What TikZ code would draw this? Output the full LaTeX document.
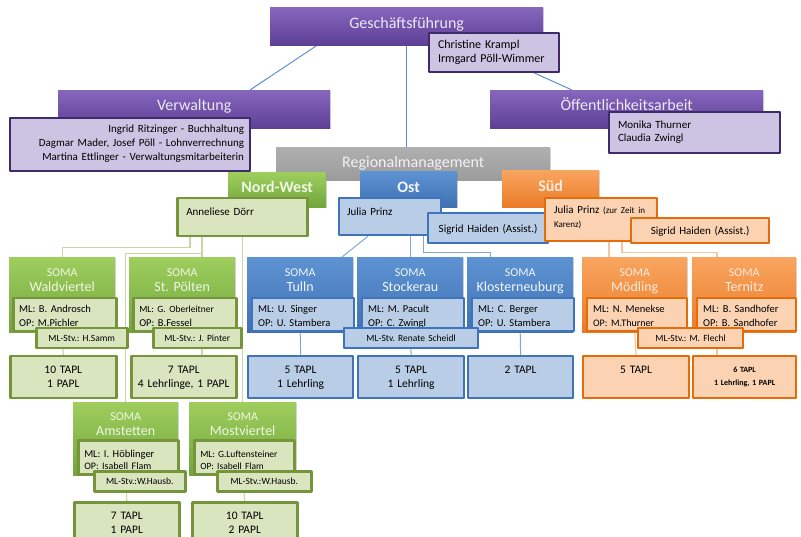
\documentclass[tikz,border=0pt]{standalone}
\usepackage{fontspec}
\setmainfont{Carlito}
\frenchspacing
\usetikzlibrary{calc,shadows,backgrounds}
\definecolor{purtop}{HTML}{8767BE}
\definecolor{purbot}{HTML}{5D3F95}
\definecolor{purtxt}{HTML}{EDE7F6}
\definecolor{purfill}{HTML}{CDC3E2}
\definecolor{purline}{HTML}{3F2A6B}
\definecolor{graytop}{HTML}{AFAFAF}
\definecolor{graybot}{HTML}{9C9C9C}
\definecolor{graytxt}{HTML}{F2F2F2}
\definecolor{grntop}{HTML}{9FCE5E}
\definecolor{grnbot}{HTML}{70A63C}
\definecolor{grntxt}{HTML}{F0F7E4}
\definecolor{grnfill}{HTML}{D8E5BF}
\definecolor{grnline}{HTML}{76943A}
\definecolor{grncon}{HTML}{C7D6A3}
\definecolor{blutop}{HTML}{5E93D3}
\definecolor{blubot}{HTML}{3F71B2}
\definecolor{blutxt}{HTML}{F2F6FB}
\definecolor{blufill}{HTML}{B9CDE6}
\definecolor{bluline}{HTML}{3E74BA}
\definecolor{blucon}{HTML}{7EA6D6}
\definecolor{orgtop}{HTML}{F9A560}
\definecolor{orgbot}{HTML}{EA7B27}
\definecolor{orgtxt}{HTML}{FDEBDD}
\definecolor{orgfill}{HTML}{FBD2B2}
\definecolor{orgline}{HTML}{E46C0A}
\definecolor{orgcon}{HTML}{F7C69F}
\definecolor{topcon}{HTML}{5E8FCB}

\begin{document}
\begin{tikzpicture}[line cap=round,line join=round,x=1pt,y=-1pt,
  box/.style={anchor=north west,inner sep=0pt,align=center,drop shadow={shadow xshift=1.2pt,shadow yshift=-1.2pt,opacity=0.3}},
  sz/.style n args={3}{text width=#1pt,text height=#2pt,text depth=#3pt},
  f16/.style={font=\fontsize{16}{19}\selectfont},
  f16b/.style={font=\fontsize{16}{19}\selectfont\bfseries},
  f14/.style={font=\fontsize{14}{15.5}\selectfont},
  f12/.style={font=\fontsize{12}{14}\selectfont},
  f11/.style={font=\fontsize{11}{14}\selectfont},
  f105/.style={font=\fontsize{10.5}{14}\selectfont},
  f95/.style={font=\fontsize{9.5}{12}\selectfont},
  f115/.style={font=\fontsize{11.5}{14}\selectfont},
  purhd/.style={box,top color=purtop,bottom color=purbot,text=purtxt,f16},
  purbx/.style={box,draw=purline,line width=2pt,fill=purfill,f11},
  grayhd/.style={box,top color=graytop,bottom color=graybot,text=graytxt,f16},
  grnhd/.style={box,top color=grntop,bottom color=grnbot,text=grntxt,f14},
  grnbx/.style={box,draw=grnline,line width=2.5pt,fill=grnfill,f105},
  bluhd/.style={box,top color=blutop,bottom color=blubot,text=blutxt,f14},
  blubx/.style={box,draw=bluline,line width=2.2pt,fill=blufill,f105},
  orghd/.style={box,top color=orgtop,bottom color=orgbot,text=orgtxt,f14},
  orgbx/.style={box,draw=orgline,line width=2.2pt,fill=orgfill,f105},
  ctop/.style={draw=topcon,line width=1pt},
  cgrn/.style={draw=grncon,line width=1.2pt},
  cblu/.style={draw=blucon,line width=1pt},
  corg/.style={draw=orgcon,line width=1.2pt}]
\useasboundingbox (0,0) rectangle (801,537);
% Leitung
\node[purhd,sz={273}{21}{17}] (gf) at (270,7) {Geschäftsführung};
\node[purbx,f12,align=left,inner xsep=9pt,sz={112}{16}{23}] (gfn) at (428,32) {Christine Krampl\\Irmgard Pöll-Wimmer};
\node[purhd,sz={272}{20}{18}] (verw) at (58,90) {Verwaltung};
\node[purbx,align=right,inner xsep=6pt,sz={228}{15}{38}] (verwn) at (9,117) {Ingrid Ritzinger - Buchhaltung\\Dagmar Mader, Josef Pöll - Lohnverrechnung\\Martina Ettlinger - Verwaltungsmitarbeiterin};
\node[purhd,sz={273}{20}{18}] (oeff) at (490,90) {Öffentlichkeitsarbeit};
\node[purbx,font=\fontsize{11}{13}\selectfont,align=left,inner xsep=9pt,sz={153}{17}{24}] (oeffn) at (608,111) {Monika Thurner\\Claudia Zwingl};
% Regionen
\node[grayhd,sz={274}{20}{13}] (reg) at (276,147) {Regionalmanagement};
\node[grnhd,f16b,sz={98}{20}{15}] (nw) at (228,172) {Nord-West};
\node[grnbx,f11,align=left,inner xsep=9pt,sz={112}{17}{21}] (nwn) at (176,197) {Anneliese Dörr};
\node[bluhd,f16b,sz={97}{21}{15}] (ost) at (360,171) {Ost};
\node[blubx,f11,align=left,inner xsep=8pt,sz={86}{17}{20}] (ostn) at (338,197) {Julia Prinz};
\node[blubx,f11,sz={120}{19}{11}] (osta) at (427,212) {Sigrid Haiden (Assist.)};
\node[orghd,f16b,sz={97}{21}{16}] (sued) at (502,170) {Süd};
\node[orgbx,f11,align=left,inner xsep=9pt,sz={94}{15}{28}] (suedn) at (544,197) {Julia Prinz \fontsize{9}{14}\selectfont(zur Zeit in\\Karenz)};
\node[orgbx,f11,sz={138}{16}{9}] (sueda) at (630,217) {Sigrid Haiden (Assist.)};
% SOMA
\node[grnhd,sz={106}{19}{56}] (wv) at (9,257) {{\fontsize{12}{15.5}\selectfont SOMA}\\Waldviertel};
\node[grnhd,sz={106}{19}{56}] (stp) at (129,257) {{\fontsize{12}{15.5}\selectfont SOMA}\\St. Pölten};
\node[bluhd,sz={106}{19}{56}] (tul) at (247,257) {{\fontsize{12}{15.5}\selectfont SOMA}\\Tulln};
\node[bluhd,sz={106}{19}{56}] (sto) at (357,257) {{\fontsize{12}{15.5}\selectfont SOMA}\\Stockerau};
\node[bluhd,sz={106}{19}{56}] (klo) at (467,257) {{\fontsize{12}{15.5}\selectfont SOMA}\\Klosterneuburg};
\node[orghd,sz={105}{19}{56}] (moe) at (582,257) {{\fontsize{12}{15.5}\selectfont SOMA}\\Mödling};
\node[orghd,sz={104}{19}{56}] (ter) at (692,257) {{\fontsize{12}{15.5}\selectfont SOMA}\\Ternitz};
\node[grnbx,align=left,inner xsep=6pt,sz={91}{14}{19}] (wvd) at (12,297) {ML: B. Androsch\\OP: M.Pichler};
\node[grnbx,align=left,inner xsep=6pt,sz={91}{14}{19}] (stpd) at (132,297) {{\fontsize{9.5}{14}\selectfont ML: G. Oberleitner}\\OP: B.Fessel};
\node[blubx,align=left,inner xsep=6pt,sz={90}{14}{19}] (tuld) at (251,297) {ML: U. Singer\\OP: U. Stambera};
\node[blubx,align=left,inner xsep=6pt,sz={90}{14}{19}] (stod) at (361,297) {ML: M. Pacult\\OP: C. Zwingl};
\node[blubx,align=left,inner xsep=6pt,sz={90}{14}{19}] (klod) at (471,297) {ML: C. Berger\\OP: U. Stambera};
\node[orgbx,align=left,inner xsep=6pt,sz={88}{14}{19}] (moed) at (586,297) {ML: N. Menekse\\{\fontsize{10}{14}\selectfont OP: M.Thurner}};
\node[orgbx,align=left,inner xsep=6pt,sz={87}{14}{19}] (terd) at (696,297) {ML: B. Sandhofer\\OP: B. Sandhofer};
\node[grnbx,f95,sz={91}{13}{7}] (wvs) at (35,327) {ML-Stv.: H.Samm};
\node[grnbx,f95,sz={88}{13}{7}] (stps) at (152,327) {ML-Stv.: J. Pinter};
\node[blubx,f95,sz={134}{13}{7}] (tus) at (343,327) {ML-Stv. Renate Scheidl};
\node[orgbx,f95,sz={105}{13}{7}] (mos) at (637,327) {ML-Stv.: M. Flechl};
\node[grnbx,f115,sz={106}{17}{25}] (wvt) at (9,355) {10 TAPL\\1 PAPL};
\node[grnbx,f115,sz={105}{17}{25}] (stpt) at (130,355) {7 TAPL\\4 Lehrlinge, 1 PAPL};
\node[blubx,f115,sz={105}{17}{25}] (tult) at (247,355) {5 TAPL\\1 Lehrling};
\node[blubx,f115,sz={106}{17}{25}] (stot) at (357,355) {5 TAPL\\1 Lehrling};
\node[blubx,f115,sz={105}{17}{25}] (klot) at (467,355) {2 TAPL};
\node[orgbx,f115,sz={106}{17}{25}] (moet) at (582,355) {5 TAPL};
\node[orgbx,font=\fontsize{8}{13}\selectfont\bfseries,sz={103}{16}{26}] (tert) at (692,355) {6 TAPL\\1 Lehrling, 1 PAPL};
\node[grnhd,sz={105}{18}{55}] (amst) at (73,402) {{\fontsize{12}{15.5}\selectfont SOMA}\\Amstetten};
\node[grnhd,sz={107}{18}{55}] (most) at (189,402) {{\fontsize{12}{15.5}\selectfont SOMA}\\Mostviertel};
\node[grnbx,font=\fontsize{10.5}{12.5}\selectfont,align=left,inner xsep=6pt,sz={88}{17}{17}] (amstd) at (77,439) {ML: I. Höblinger\\{\fontsize{10}{12.5}\selectfont OP: Isabell Flam}};
\node[grnbx,font=\fontsize{9.5}{12.5}\selectfont,align=left,inner xsep=6pt,sz={88}{17}{17}] (mostd) at (193,439) {ML: G.Luftensteiner\\OP: Isabell Flam};
\node[grnbx,f95,sz={91}{13}{7}] (amsts) at (93,470) {ML-Stv.:W.Hausb.};
\node[grnbx,f95,sz={94}{13}{7}] (mosts) at (216,470) {ML-Stv.:W.Hausb.};
\node[grnbx,f115,sz={105}{17}{28}] (amstt) at (73,501) {7 TAPL\\1 PAPL};
\node[grnbx,f115,sz={105}{17}{28}] (mostt) at (191,501) {10 TAPL\\2 PAPL};
% Verbindungen
\coordinate (c1) at ($(nwn.south west)+(26,0)$);
\coordinate (c2) at ($(suedn.south west)+(65,0)$);
\coordinate (c3) at ($(ter.north west)+(25,0)$);
\begin{pgfonlayer}{background}
\draw[ctop] ($(gf.south west)+(47,0)$) -- ($(verw.north west)+(192,0)$);
\draw[ctop] (gf.south) -- (gf.south |- reg.north);
\draw[ctop] ($(gf.south east)+(-70,0)$) -- ($(oeff.north west)+(82,0)$);
\draw[cgrn] ($(nwn.south west)+(14,0)$) -- ++(0,10) -| (wv.north);
\draw[cgrn] (c1) -- (c1 |- stpt.north);
\draw[cgrn] ($(c1)+(0,16)$) -| (amst.north);
\draw[cgrn] (most.north |- nwn.south) -- (most.north);
\draw[cgrn] (wv.south) -- (wvt.north);
\draw[cgrn] (amst.south) -- (amstt.north);
\draw[cgrn] (most.south) -- (mostt.north);
\draw[cblu] ($(ostn.south west)+(30,0)$) -- ($(tul.north west)+(95,0)$);
\draw[cblu] (sto.north |- ostn.south) -- (sto.north);
\draw[cblu] ($(ostn.south west)+(85,0)$) -- ++(0,16) -| ($(klo.north west)+(23,0)$);
\draw[cblu] (tul.south) -- (tult.north);
\draw[cblu] (sto.south) -- (stot.north);
\draw[cblu] (klo.south) -- (klot.north);
\draw[corg] (c2) -- (c2 |- moe.north);
\draw[corg] ($(suedn.south west)+(78,0)$) -- ++(0,10) -| (c3);
\draw[corg] (moe.south) -- (moet.north);
\draw[corg] (c3) -- (c3 |- tert.north);
\end{pgfonlayer}
\end{tikzpicture}
\end{document}
